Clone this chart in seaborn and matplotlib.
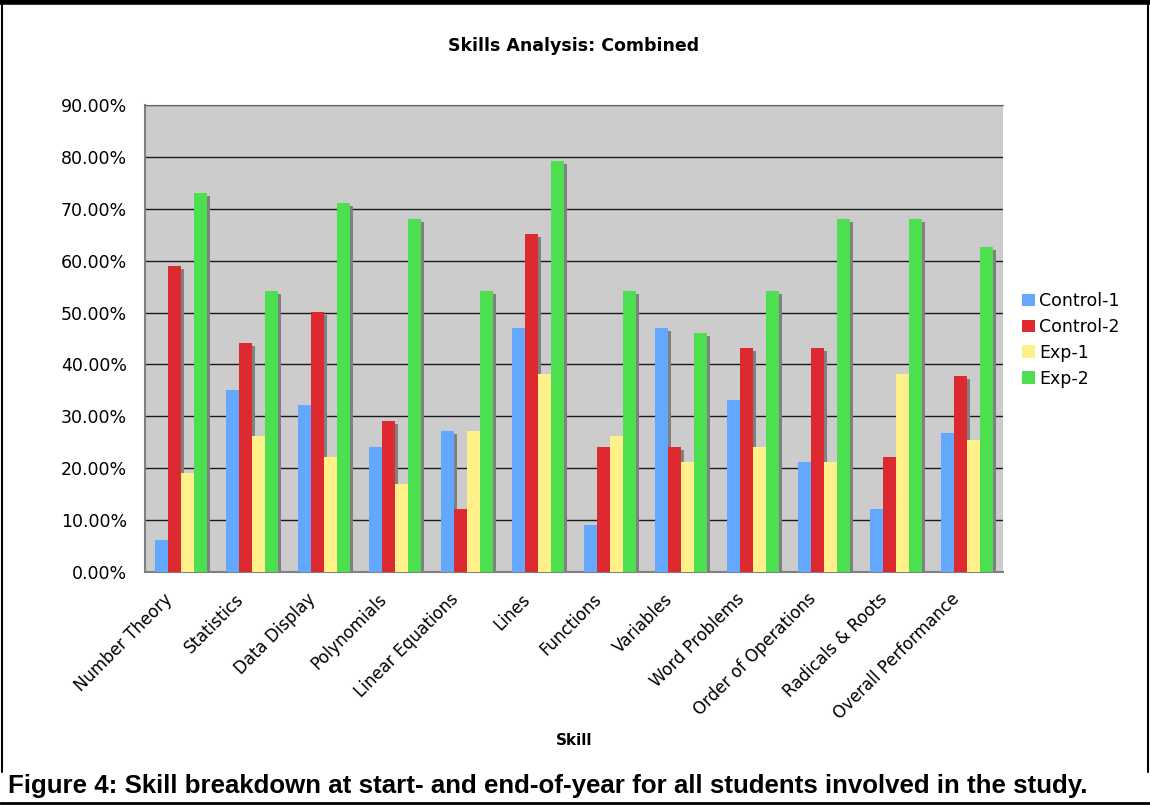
import matplotlib
matplotlib.use("Agg")
import matplotlib.pyplot as plt
import matplotlib.transforms as mtransforms
from matplotlib.lines import Line2D
from matplotlib.patches import Rectangle, Patch
import pandas as pd
import seaborn as sns

# --- Data ---
skills = ["Number Theory", "Statistics", "Data Display", "Polynomials",
          "Linear Equations", "Lines", "Functions", "Variables",
          "Word Problems", "Order of Operations", "Radicals & Roots",
          "Overall Performance"]
groups = ["Control-1", "Control-2", "Exp-1", "Exp-2"]
control_1 = [6.1, 35.0, 32.1, 24.0, 27.1, 47.0, 9.0, 47.0, 33.1, 21.2, 12.1, 26.7]
control_2 = [59.0, 44.1, 50.1, 29.1, 12.1, 65.1, 24.0, 24.0, 43.1, 43.1, 22.1, 37.7]
exp_1 = [19.0, 26.2, 22.1, 16.9, 27.1, 38.1, 26.2, 21.2, 24.0, 21.2, 38.1, 25.4]
exp_2 = [73.0, 54.1, 71.2, 68.1, 54.1, 79.2, 54.1, 46.0, 54.1, 68.1, 68.1, 62.6]

COLORS = {"Control-1": "#62A8FF", "Control-2": "#DC2A30",
          "Exp-1": "#FFF08A", "Exp-2": "#4CDF50"}

rows = []
for g, vals in zip(groups, [control_1, control_2, exp_1, exp_2]):
    for s, v in zip(skills, vals):
        rows.append({"Skill": s, "Group": g, "Value": v})
df = pd.DataFrame(rows)

sns.set_style("white")
plt.rcParams["font.family"] = ["DejaVu Sans"]
plt.rcParams["text.color"] = "black"
plt.rcParams["xtick.color"] = "black"
plt.rcParams["ytick.color"] = "black"
plt.rcParams["axes.labelcolor"] = "black"

fig = plt.figure(figsize=(11.5, 8.05), dpi=100)
ax = fig.add_axes([145 / 1150, 1 - 572 / 805, 858 / 1150, 467 / 805])
ax.set_facecolor("#CCCCCC")

sns.barplot(data=df, x="Skill", y="Value", hue="Group", order=skills,
            hue_order=groups, palette=COLORS, width=0.73, gap=0,
            saturation=1, errorbar=None, ax=ax, zorder=3, linewidth=0)

# drop shadows behind each bar
shadow_tr = mtransforms.offset_copy(ax.transData, fig=fig, x=3, y=-3, units="dots")
for p in list(ax.patches):
    if p.get_height() <= 0:
        continue
    ax.add_patch(Rectangle((p.get_x(), 0), p.get_width(), p.get_height(),
                           transform=shadow_tr, facecolor="#808080",
                           edgecolor="none", zorder=2))

ax.set_ylim(0, 90)
ax.set_xlim(-0.5, len(skills) - 0.5)
ax.set_yticks(range(0, 91, 10))
ax.set_yticklabels([f"{v:.2f}%" for v in range(0, 91, 10)], fontsize=12.5)
ax.yaxis.grid(True, color="#1a1a1a", linewidth=1.0)
ax.set_axisbelow(True)

# ticks sit between the groups, labels sit (slightly left) under each group
ax.set_xticks([i + 0.5 for i in range(-1, len(skills))], minor=False)
ax.set_xticklabels([""] * (len(skills) + 1))
ax.set_xticks([i - 0.24 for i in range(len(skills))], minor=True)
ax.set_xticklabels(skills, minor=True, rotation=45, ha="right",
                   rotation_mode="anchor", fontsize=12)
ax.tick_params(axis="x", which="minor", length=0, pad=13)
ax.tick_params(axis="x", which="major", length=6, width=1, direction="out",
               color="#222222")
ax.tick_params(axis="y", length=5, width=1, direction="out", color="#555555",
               pad=8)

for side in ["left", "bottom"]:
    ax.spines[side].set_color("#808080")
    ax.spines[side].set_linewidth(1.5)
ax.spines["top"].set_color("#666666")
ax.spines["right"].set_visible(False)

ax.set_xlabel("Skill", fontsize=11, fontweight="bold")
ax.xaxis.set_label_coords(0.5, -0.345)
ax.set_ylabel("")
ax.set_title("Skills Analysis: Combined", fontsize=12.5, fontweight="bold",
             pad=39)

handles = [Patch(facecolor=COLORS[g], edgecolor="none") for g in groups]
ax.legend(handles, groups, loc="center left", bbox_to_anchor=(1.014, 0.497),
          frameon=False, fontsize=12.5, handlelength=0.75, handleheight=0.75,
          handletextpad=0.25, labelspacing=0.45, borderaxespad=0)

# outer frame
fig.add_artist(Line2D([0, 1], [0.998, 0.998], color="black", linewidth=4,
                      transform=fig.transFigure))
fig.add_artist(Line2D([0.002, 0.002], [1, 1 - 772 / 805], color="black",
                      linewidth=1.5, transform=fig.transFigure))
fig.add_artist(Line2D([0.998, 0.998], [1, 1 - 772 / 805], color="black",
                      linewidth=1.5, transform=fig.transFigure))
fig.add_artist(Line2D([0, 1], [0.003, 0.003], color="black", linewidth=2,
                      transform=fig.transFigure))

fig.text(8 / 1150, 1 - 786 / 805,
         "Figure 4: Skill breakdown at start- and end-of-year for all students involved in the study.",
         fontsize=18.6, fontweight="bold", family=["Liberation Sans", "DejaVu Sans"],
         va="center", ha="left")

fig.savefig("out.png", dpi=100)
